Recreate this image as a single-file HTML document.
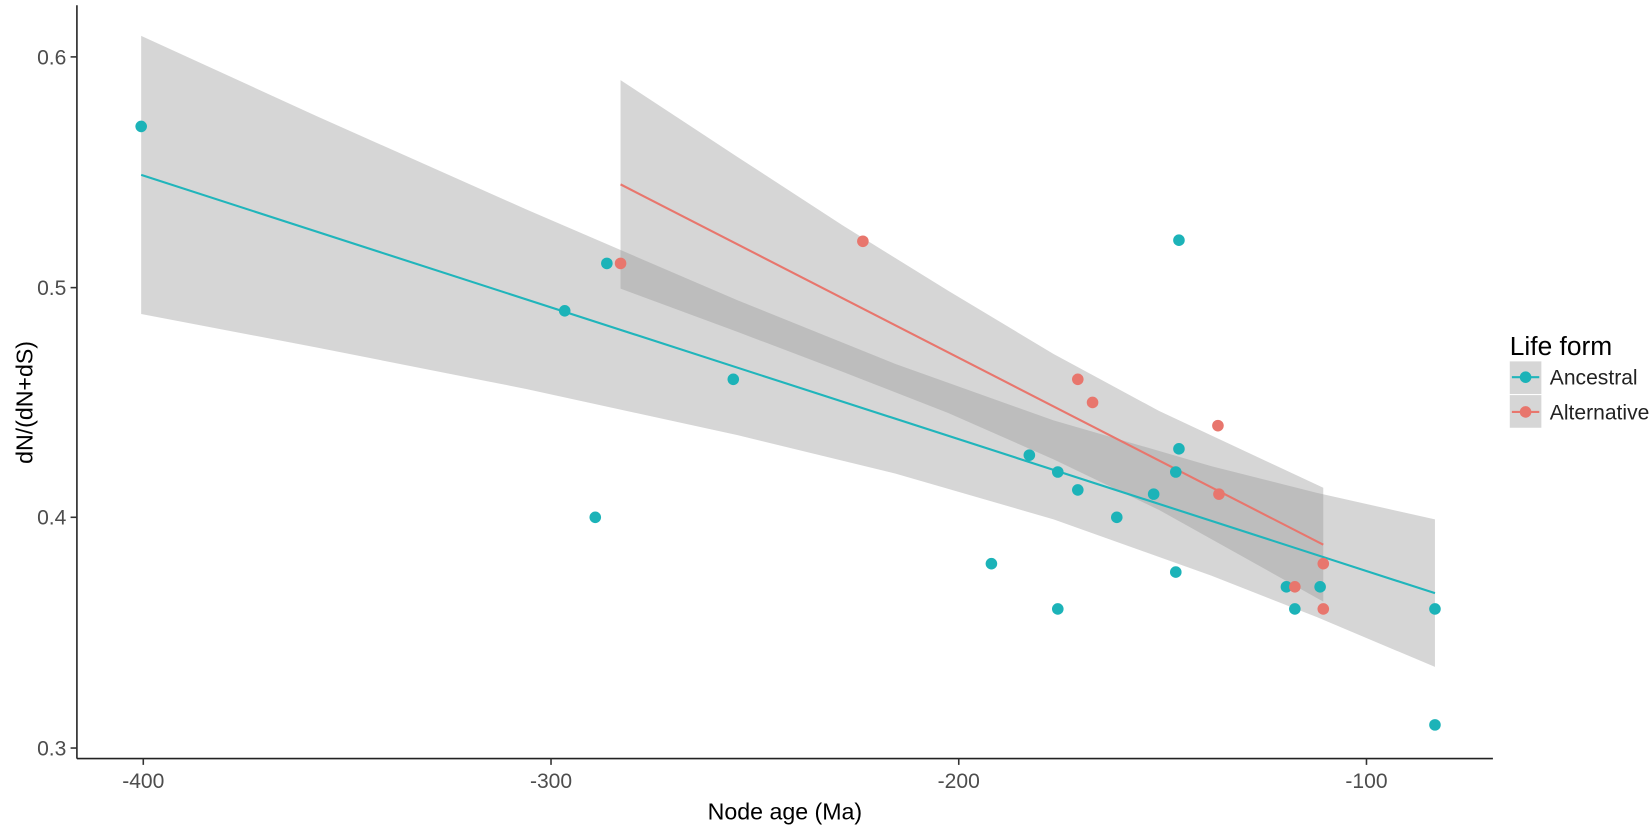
<!DOCTYPE html>
<html><head><meta charset="utf-8"><style>body{margin:0;background:#fff}svg{display:block}</style></head>
<body>
<svg width="1652" height="826" viewBox="0 0 1568 784" xmlns="http://www.w3.org/2000/svg" font-family="Liberation Sans, sans-serif">
<rect width="1568" height="784" fill="#fff"/>
<!-- bands -->
<path d="M134,34 L300,110 L500,199 L700,285 L850,345.5 L1000,399 L1150,442.5 L1250,467.8 L1362,493 L1362,633 L1250,585.8 L1150,546.5 L1000,493 L850,449.5 L700,413 L500,369.3 L300,329.7 L134,298 Z" fill="#999" fill-opacity="0.4"/>
<path d="M589,76 L700,149 L800,214 L900,276 L1000,336 L1100,390 L1256,463 L1256,571 L1100,484 L1000,436 L900,392 L800,353 L700,315 L589,274 Z" fill="#999" fill-opacity="0.4"/>
<!-- lines -->
<line x1="134" y1="166" x2="1362" y2="563" stroke="#20b5bb" stroke-width="2"/>
<line x1="589" y1="175" x2="1256" y2="517" stroke="#e8766d" stroke-width="2"/>
<!-- teal points -->
<g fill="#1cb3b8">
<circle cx="134" cy="120" r="5.5"/><circle cx="576" cy="250" r="5.5"/><circle cx="536" cy="295" r="5.5"/>
<circle cx="565" cy="491" r="5.5"/><circle cx="696" cy="360" r="5.5"/><circle cx="941" cy="535" r="5.5"/>
<circle cx="977" cy="432" r="5.5"/><circle cx="1004" cy="578" r="5.5"/><circle cx="1004" cy="448" r="5.5"/>
<circle cx="1023" cy="465" r="5.5"/><circle cx="1060" cy="491" r="5.5"/><circle cx="1095" cy="469" r="5.5"/>
<circle cx="1116" cy="543" r="5.5"/><circle cx="1116" cy="448" r="5.5"/><circle cx="1119" cy="426" r="5.5"/>
<circle cx="1119" cy="228" r="5.5"/><circle cx="1221" cy="557" r="5.5"/><circle cx="1229" cy="578" r="5.5"/>
<circle cx="1253" cy="557" r="5.5"/><circle cx="1362" cy="578" r="5.5"/><circle cx="1362" cy="688" r="5.5"/>
</g>
<g fill="#e8766d">
<circle cx="589" cy="250" r="5.5"/><circle cx="819" cy="229" r="5.5"/><circle cx="1023" cy="360" r="5.5"/>
<circle cx="1037" cy="382" r="5.5"/><circle cx="1156" cy="404" r="5.5"/><circle cx="1157" cy="469" r="5.5"/>
<circle cx="1229" cy="557" r="5.5"/><circle cx="1256" cy="535" r="5.5"/><circle cx="1256" cy="578" r="5.5"/>
</g>
<!-- axes -->
<line x1="73" y1="5" x2="73" y2="720" stroke="#222" stroke-width="1.5"/>
<line x1="73" y1="720" x2="1417" y2="720" stroke="#222" stroke-width="1.5"/>
<g stroke="#333" stroke-width="1.5">
<line x1="67" y1="54" x2="73" y2="54"/><line x1="67" y1="273" x2="73" y2="273"/><line x1="67" y1="491" x2="73" y2="491"/><line x1="67" y1="710" x2="73" y2="710"/>
<line x1="136" y1="720" x2="136" y2="726"/><line x1="523" y1="720" x2="523" y2="726"/><line x1="910" y1="720" x2="910" y2="726"/><line x1="1297" y1="720" x2="1297" y2="726"/>
</g>
<g fill="#4d4d4d" font-size="20" text-anchor="end">
<text x="63" y="61">0.6</text><text x="63" y="280">0.5</text><text x="63" y="498">0.4</text><text x="63" y="717">0.3</text>
</g>
<g fill="#4d4d4d" font-size="20" text-anchor="middle">
<text x="136" y="748">-400</text><text x="523" y="748">-300</text><text x="910" y="748">-200</text><text x="1297" y="748">-100</text>
</g>
<text x="745" y="778" font-size="22" text-anchor="middle" fill="#000">Node age (Ma)</text>
<text transform="translate(31,382) rotate(-90)" font-size="22" text-anchor="middle" fill="#000">dN/(dN+dS)</text>
<!-- legend -->
<text x="1433" y="337" font-size="25" fill="#000">Life form</text>
<rect x="1433" y="343" width="30" height="31" fill="#d6d6d6"/>
<rect x="1433" y="375" width="30" height="31" fill="#d6d6d6"/>
<line x1="1435" y1="358" x2="1461" y2="358" stroke="#20b5bb" stroke-width="2"/>
<circle cx="1448" cy="358" r="5.5" fill="#1cb3b8"/>
<line x1="1435" y1="391" x2="1461" y2="391" stroke="#e8766d" stroke-width="2"/>
<circle cx="1448" cy="391" r="5.5" fill="#e8766d"/>
<text x="1471" y="365" font-size="20" fill="#222">Ancestral</text>
<text x="1471" y="398" font-size="20" fill="#222">Alternative</text>
</svg>
</body></html>
